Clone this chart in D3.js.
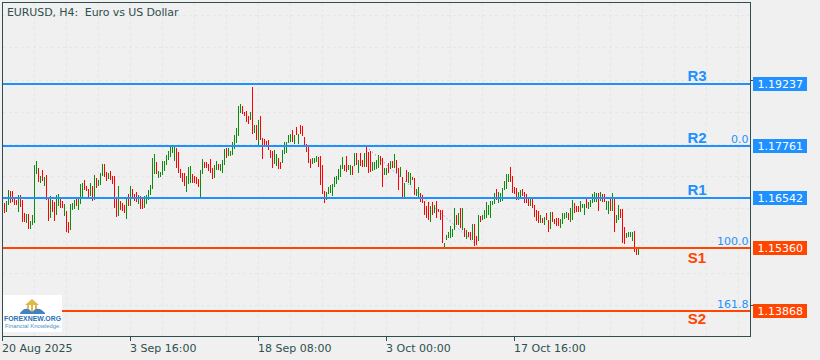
<!DOCTYPE html>
<html>
<head>
<meta charset="utf-8">
<script src="https://cdn.jsdelivr.net/npm/d3@7"></script>
<style>
  html, body { margin: 0; padding: 0; background: #f0f0f0; }
  svg { display: block; }
  text { font-family: "DejaVu Sans", sans-serif; font-size: 11px; }
</style>
</head>
<body>
<svg id="chart" width="820" height="360"></svg>
<script>
// candle highs, one per H4 bar
const highs = [1.1633,
1.1642,1.1647,1.1673,1.1671,1.1671,1.1652,1.1650,1.1661,1.1661,
1.1650,1.1619,1.1616,1.1616,1.1600,1.1614,1.1732,1.1742,1.1725,1.1706,
1.1721,1.1704,1.1709,1.1654,1.1659,1.1650,1.1645,1.1661,1.1664,1.1654,
1.1647,1.1640,1.1624,1.1597,1.1640,1.1642,1.1650,1.1652,1.1652,1.1687,
1.1690,1.1697,1.1683,1.1676,1.1690,1.1683,1.1709,1.1702,1.1697,1.1713,
1.1735,1.1735,1.1716,1.1713,1.1718,1.1706,1.1706,1.1657,1.1683,1.1647,
1.1642,1.1638,1.1654,1.1664,1.1683,1.1676,1.1664,1.1669,1.1661,1.1659,
1.1652,1.1659,1.1661,1.1673,1.1685,1.1749,1.1758,1.1740,1.1718,1.1716,
1.1742,1.1742,1.1756,1.1766,1.1777,1.1775,1.1775,1.1773,1.1763,1.1723,
1.1713,1.1713,1.1706,1.1728,1.1730,1.1711,1.1706,1.1704,1.1699,1.1721,
1.1747,1.1740,1.1740,1.1735,1.1747,1.1725,1.1732,1.1742,1.1735,1.1735,
1.1744,1.1770,1.1773,1.1773,1.1766,1.1787,1.1803,1.1820,1.1872,1.1877,
1.1872,1.1858,1.1860,1.1848,1.1858,1.1917,1.1827,1.1827,1.1839,1.1848,
1.1796,1.1794,1.1789,1.1791,1.1768,1.1766,1.1768,1.1758,1.1749,1.1740,
1.1768,1.1787,1.1787,1.1803,1.1806,1.1815,1.1803,1.1822,1.1806,1.1827,
1.1825,1.1799,1.1782,1.1775,1.1747,1.1749,1.1749,1.1754,1.1751,1.1754,
1.1732,1.1671,1.1669,1.1680,1.1685,1.1687,1.1704,1.1706,1.1723,1.1732,
1.1751,1.1732,1.1754,1.1732,1.1732,1.1730,1.1761,1.1761,1.1744,1.1761,
1.1744,1.1761,1.1775,1.1763,1.1766,1.1740,1.1740,1.1744,1.1756,1.1754,
1.1749,1.1725,1.1725,1.1737,1.1742,1.1742,1.1758,1.1744,1.1725,1.1728,
1.1704,1.1690,1.1721,1.1716,1.1713,1.1704,1.1702,1.1676,1.1680,1.1666,
1.1661,1.1647,1.1635,1.1645,1.1635,1.1645,1.1638,1.1647,1.1628,1.1626,
1.1626,1.1548,1.1567,1.1574,1.1588,1.1581,1.1631,1.1614,1.1619,1.1631,
1.1631,1.1583,1.1579,1.1574,1.1574,1.1593,1.1593,1.1564,1.1614,1.1612,
1.1614,1.1626,1.1645,1.1638,1.1647,1.1647,1.1666,1.1676,1.1669,1.1666,
1.1678,1.1695,1.1711,1.1711,1.1728,1.1706,1.1680,1.1678,1.1669,1.1673,
1.1676,1.1669,1.1664,1.1652,1.1652,1.1654,1.1638,1.1626,1.1624,1.1614,
1.1607,1.1609,1.1619,1.1602,1.1621,1.1621,1.1605,1.1607,1.1607,1.1605,
1.1619,1.1619,1.1621,1.1619,1.1631,1.1650,1.1642,1.1635,1.1635,1.1647,
1.1640,1.1640,1.1652,1.1645,1.1650,1.1664,1.1669,1.1666,1.1666,1.1669,
1.1664,1.1664,1.1647,1.1647,1.1652,1.1666,1.1652,1.1614,1.1638,1.1628,
1.1628,1.1586,1.1571,1.1574,1.1574,1.1574,1.1576,1.1538,1.1534];

// candle lows
const lows = [1.1621,
1.1619,1.1621,1.1638,1.1642,1.1645,1.1638,1.1638,1.1621,1.1633,
1.1597,1.1597,1.1595,1.1581,1.1581,1.1590,1.1595,1.1711,1.1692,1.1690,
1.1695,1.1683,1.1650,1.1600,1.1607,1.1621,1.1600,1.1614,1.1635,1.1631,
1.1631,1.1612,1.1574,1.1571,1.1579,1.1626,1.1628,1.1635,1.1626,1.1640,
1.1654,1.1673,1.1671,1.1657,1.1659,1.1647,1.1650,1.1678,1.1683,1.1685,
1.1706,1.1704,1.1695,1.1699,1.1697,1.1687,1.1631,1.1609,1.1612,1.1626,
1.1624,1.1619,1.1605,1.1635,1.1635,1.1654,1.1647,1.1645,1.1640,1.1628,
1.1628,1.1631,1.1640,1.1650,1.1661,1.1676,1.1711,1.1711,1.1702,1.1704,
1.1709,1.1718,1.1732,1.1744,1.1751,1.1761,1.1742,1.1725,1.1713,1.1702,
1.1692,1.1683,1.1669,1.1687,1.1690,1.1690,1.1690,1.1687,1.1680,1.1657,
1.1711,1.1725,1.1725,1.1718,1.1713,1.1699,1.1702,1.1721,1.1721,1.1718,
1.1713,1.1732,1.1749,1.1754,1.1754,1.1756,1.1770,1.1784,1.1801,1.1855,
1.1853,1.1848,1.1834,1.1829,1.1839,1.1806,1.1808,1.1791,1.1780,1.1791,
1.1747,1.1777,1.1775,1.1768,1.1749,1.1725,1.1735,1.1730,1.1723,1.1723,
1.1737,1.1758,1.1761,1.1784,1.1787,1.1787,1.1782,1.1803,1.1782,1.1806,
1.1801,1.1780,1.1763,1.1737,1.1725,1.1735,1.1737,1.1740,1.1728,1.1685,
1.1664,1.1642,1.1650,1.1664,1.1666,1.1659,1.1680,1.1687,1.1697,1.1704,
1.1723,1.1718,1.1716,1.1721,1.1709,1.1709,1.1730,1.1732,1.1713,1.1730,
1.1728,1.1728,1.1728,1.1713,1.1716,1.1718,1.1721,1.1723,1.1725,1.1732,
1.1680,1.1709,1.1709,1.1713,1.1723,1.1725,1.1725,1.1713,1.1673,1.1704,
1.1652,1.1652,1.1692,1.1690,1.1685,1.1697,1.1661,1.1659,1.1657,1.1645,
1.1642,1.1614,1.1607,1.1602,1.1597,1.1614,1.1619,1.1607,1.1621,1.1602,
1.1548,1.1536,1.1555,1.1560,1.1560,1.1562,1.1579,1.1590,1.1590,1.1583,
1.1579,1.1562,1.1557,1.1562,1.1555,1.1555,1.1541,1.1543,1.1553,1.1597,
1.1602,1.1605,1.1607,1.1614,1.1607,1.1638,1.1640,1.1650,1.1642,1.1645,
1.1647,1.1673,1.1676,1.1692,1.1692,1.1666,1.1664,1.1650,1.1650,1.1654,
1.1659,1.1642,1.1642,1.1635,1.1635,1.1631,1.1609,1.1600,1.1595,1.1595,
1.1595,1.1590,1.1602,1.1574,1.1581,1.1597,1.1593,1.1588,1.1588,1.1583,
1.1593,1.1605,1.1607,1.1602,1.1597,1.1602,1.1619,1.1621,1.1621,1.1621,
1.1631,1.1614,1.1631,1.1628,1.1633,1.1642,1.1645,1.1645,1.1624,1.1647,
1.1645,1.1645,1.1626,1.1616,1.1624,1.1624,1.1574,1.1595,1.1602,1.1607,
1.1548,1.1545,1.1560,1.1562,1.1562,1.1553,1.1527,1.1520,1.1520];

// u = bull bar, d = bear bar, same order as highs and lows
const directions = ('d' +
  'duuddddudd' + 'duduuuudud' + 'uddudduudd' + 'udduuuduuu' +
  'dddududuuu' + 'ddudddd' + 'udd' + 'dududddudd' +
  'uuuuuuduuu' + 'uuuuuudddd' + 'duuudddduu' + 'ddddduuduu' +
  'uduuuuuuud' + 'dddudududd' + 'ddddduuddu' + 'uuuudududd' +
  'dddduuuddd' + 'duuuuuuuuu' + 'dduudududd' + 'uddduuuudd' +
  'uudududdud' + 'uduudduudd' + 'dddududddd' + 'uuuuuududu' +
  'dudduddudu' + 'uuuuuuduuu' + 'uuudddduud' + 'ddduddddud' +
  'uddudddduu' + 'uuduuddduu' + 'uduuuuudud' + 'duududuudd' +
  'duuuuddu').split('');

// support and resistance levels
const levelNames = ['R3', 'R2', 'R1', 'S1', 'S2'];
const levelPrices = [1.19237, 1.17761, 1.16542, 1.15360, 1.13868];

// fibonacci retracement labels and the diagonal it was drawn along
const fiboLabels = ['0.0', '100.0', '161.8'];
const fiboPrices = [1.17761, 1.15360, 1.13868];
const fiboAnchorBars = [182, 239];
const fiboAnchorPrices = [1.17761, 1.15360];

// time axis
const tickBars = [0, 64, 128, 192, 256];
const tickLabels = ['20 Aug 2025', '3 Sep 16:00', '18 Sep 08:00', '3 Oct 00:00', '17 Oct 16:00'];

// horizontal grid prices, and the few of them that still show a tick on the price axis
const gridPrices = [1.2087, 1.2011, 1.1934, 1.1858, 1.1782, 1.1706, 1.1630, 1.1553, 1.1477, 1.1401, 1.1325];
const priceTicks = [1.1934, 1.1401];

const BLUE = '#1e90ff', ORANGE = '#ff4500', FRAME = '#2f4f4f';

const svg = d3.select('#chart');

const frame = { left: 2.5, top: 2.5, right: 750.5, bottom: 336.5 };

// 2px per bar, bar 0 sits on the left frame edge
const x = d3.scaleLinear().domain([0, 374]).range([2, 750]);
const y = d3.scaleLinear()
    .domain([levelPrices[4], levelPrices[0]])
    .range([311, 84]);

// dashed grid
const grid = svg.append('g')
    .attr('stroke', '#e6e6e6')
    .attr('stroke-dasharray', '3,3')
    .attr('shape-rendering', 'crispEdges');

grid.selectAll('.gv')
    .data(d3.range(16, 374, 16))
    .join('line')
    .attr('class', 'gv')
    .attr('x1', d => x(d) + 0.5).attr('x2', d => x(d) + 0.5)
    .attr('y1', frame.top).attr('y2', frame.bottom);

grid.selectAll('.gh')
    .data(gridPrices.filter(p => y(p) < frame.bottom))
    .join('line')
    .attr('class', 'gh')
    .attr('x1', frame.left).attr('x2', frame.right)
    .attr('y1', d => Math.round(y(d)) + 0.5).attr('y2', d => Math.round(y(d)) + 0.5);

// dotted fibo diagonal, under the bars
svg.append('line')
    .attr('x1', x(fiboAnchorBars[0])).attr('y1', y(fiboAnchorPrices[0]))
    .attr('x2', x(fiboAnchorBars[1])).attr('y2', y(fiboAnchorPrices[1]))
    .attr('stroke', BLUE)
    .attr('stroke-dasharray', '1,3');

// bars are one pixel wide so only the high-low range shows
svg.append('g')
    .attr('shape-rendering', 'crispEdges')
    .selectAll('rect')
    .data(highs.map((h, i) => ({ i, h, l: lows[i], dir: directions[i] })))
    .join('rect')
    .attr('x', d => x(d.i))
    .attr('width', 1)
    .attr('y', d => Math.round(y(d.h)))
    .attr('height', d => Math.max(1, Math.round(y(d.l)) - Math.round(y(d.h))))
    .attr('fill', d => d.dir === 'u' ? '#0c8c0c' : '#ff0000');

// level lines on top of bars
const levelColor = p => p > 1.16 ? BLUE : ORANGE;

svg.append('g')
    .attr('shape-rendering', 'crispEdges')
    .selectAll('line')
    .data(levelPrices)
    .join('line')
    .attr('x1', frame.left).attr('x2', frame.right)
    .attr('y1', d => Math.round(y(d))).attr('y2', d => Math.round(y(d)))
    .attr('stroke', levelColor)
    .attr('stroke-width', 2);

// frame
svg.append('rect')
    .attr('x', frame.left).attr('y', frame.top)
    .attr('width', frame.right - frame.left)
    .attr('height', frame.bottom - frame.top)
    .attr('fill', 'none')
    .attr('stroke', FRAME)
    .attr('shape-rendering', 'crispEdges');

// time axis, labels start at the tick like in the terminal
const xAxis = d3.axisBottom(x)
    .tickValues(tickBars)
    .tickSize(4)
    .tickFormat((d, i) => tickLabels[i]);

const xg = svg.append('g')
    .attr('transform', `translate(0,${frame.bottom})`)
    .call(xAxis);
xg.select('.domain').remove();
xg.selectAll('line').attr('stroke', FRAME).attr('shape-rendering', 'crispEdges');
xg.selectAll('text')
    .attr('fill', FRAME)
    .attr('text-anchor', 'start')
    .attr('x', -0.5)
    .attr('y', 7)
    .attr('dy', '0.8em')
    .style('font-family', '"DejaVu Sans", sans-serif')
    .style('font-size', '11px');

// price axis only keeps short ticks, the values sit in the level boxes
const yg = svg.append('g')
    .attr('transform', `translate(${frame.right},0)`)
    .call(d3.axisRight(y).tickValues(priceTicks).tickSize(3).tickFormat(''));
yg.select('.domain').remove();
yg.selectAll('line').attr('stroke', FRAME).attr('shape-rendering', 'crispEdges');

// level price boxes
const boxes = svg.append('g').selectAll('g')
    .data(levelPrices)
    .join('g')
    .attr('transform', d => `translate(753,${Math.round(y(d)) - 7})`);

boxes.append('rect')
    .attr('width', 54).attr('height', 14)
    .attr('fill', levelColor);

boxes.append('text')
    .attr('x', 4.5).attr('y', 11)
    .attr('fill', '#fff')
    .text(d => d.toFixed(5));

// R/S names, resistance above the line and support below it
// S2 sits a little closer to its line than S1
const nameOffset = [-3, -3, -3, 15, 13];
svg.append('g').selectAll('text')
    .data(levelPrices)
    .join('text')
    .attr('x', 697)
    .attr('y', (d, i) => Math.round(y(d)) + nameOffset[i])
    .attr('text-anchor', 'middle')
    .attr('fill', levelColor)
    .style('font-family', '"Liberation Sans", Arial, sans-serif')
    .style('font-size', '15px')
    .style('font-weight', 'bold')
    .text((d, i) => levelNames[i]);

// fibo level labels
svg.append('g').selectAll('text')
    .data(fiboPrices)
    .join('text')
    .attr('x', 748.5)
    .attr('y', d => Math.round(y(d)) - 3)
    .attr('text-anchor', 'end')
    .attr('fill', BLUE)
    .text((d, i) => fiboLabels[i]);

// title
svg.append('text')
    .attr('x', 7).attr('y', 16)
    .attr('fill', FRAME)
    .style('white-space', 'pre')
    .style('letter-spacing', '-0.1px')
    .text('EURUSD, H4:  Euro vs US Dollar');

// watermark logo
function drawLogo() {
    const logo = svg.append('g');
    logo.append('rect')
        .attr('x', 3).attr('y', 295).attr('width', 59).attr('height', 37)
        .attr('fill', '#fff');
    // temple
    logo.append('path')
        .attr('d', 'M25 305 L32 299 L39 305 Z')
        .attr('fill', '#e0b84c');
    logo.append('g').attr('fill', '#e0b84c')
        .selectAll('rect')
        .data([27, 31, 35])
        .join('rect')
        .attr('x', d => d).attr('y', 305).attr('width', 2).attr('height', 7);
    // open book
    logo.append('path')
        .attr('d', 'M20 313 Q26 305 32 312 Q38 305 45 313 L45 314 L20 314 Z')
        .attr('fill', '#3f83c4');
    logo.append('text')
        .attr('x', 32.5).attr('y', 321)
        .attr('text-anchor', 'middle')
        .attr('fill', '#2a6fb5')
        .style('font-family', '"Liberation Sans", Arial, sans-serif')
        .style('font-size', '6.9px')
        .style('font-weight', 'bold')
        .text('FOREXNEW.ORG');
    logo.append('text')
        .attr('x', 33).attr('y', 328)
        .attr('text-anchor', 'middle')
        .attr('fill', '#4a8fc9')
        .style('font-family', '"Liberation Sans", Arial, sans-serif')
        .style('font-size', '5.9px')
        .text('Financial Knowledge.');
}
drawLogo();
</script>
</body>
</html>
